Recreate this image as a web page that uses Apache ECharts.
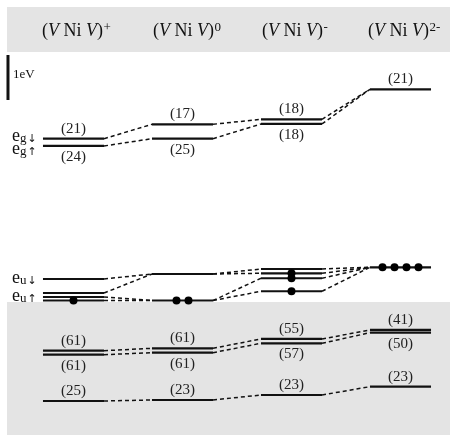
<!DOCTYPE html>
<html><head><meta charset="utf-8">
<script src="https://cdn.jsdelivr.net/npm/echarts@6/dist/echarts.min.js"></script>
<style>html,body{margin:0;padding:0;background:#fff}#c{width:450px;height:435px}</style>
</head><body><div id="c"></div>
<script>
// ---- data (energies in eV, 0 = top of occupied region) ----
const columnLabels = ['(a)', '(b)', '(c)', '(d)'];
const chargeStates = ['+', '0', '-', '2-'];

const levelsA = [3.629, 3.467, 0.511, 0.200, 0.111, 0.033, -1.082, -1.171, -2.200];
const levelsB = [3.949, 3.629, 0.622, 0.033, -1.029, -1.127, -2.178];
const levelsC = [4.060, 3.956, 0.733, 0.638, 0.527, 0.238, -0.822, -0.918, -2.067];
const levelsD = [4.727, 0.771, -0.622, -0.682, -1.882];

const countsA = ['(21)', '(24)', '', '', '', '', '(61)', '(61)', '(25)'];
const countsB = ['(17)', '(25)', '', '', '(61)', '(61)', '(23)'];
const countsC = ['(18)', '(18)', '', '', '', '', '(55)', '(57)', '(23)'];
const countsD = ['(21)', '', '(41)', '(50)', '(23)'];

const electronsA = [0, 0, 0, 0, 0, 1, 0, 0, 0];
const electronsB = [0, 0, 0, 2, 0, 0, 0];
const electronsC = [0, 0, 0, 1, 1, 1, 0, 0, 0];
const electronsD = [0, 4, 0, 0, 0];

const linksAB = [[0,0],[1,1],[2,2],[3,2],[4,3],[5,3],[6,4],[7,5],[8,6]];
const linksBC = [[0,0],[1,1],[2,2],[2,3],[3,4],[3,5],[4,6],[5,7],[6,8]];
const linksCD = [[0,0],[1,0],[2,1],[3,1],[4,1],[5,1],[6,2],[7,3],[8,4]];

const scaleBarEV = 1;

// ---- build ----
const levels = [levelsA, levelsB, levelsC, levelsD];
const counts = [countsA, countsB, countsC, countsD];
const electrons = [electronsA, electronsB, electronsC, electronsD];
const links = [linksAB, linksBC, linksCD];

const HALF = 0.28;      // half level width in column units
const ESP = 0.11;       // electron spacing
const X_MIN = -0.6743, X_MAX = 3.4541;
const Y_MIN = -2.956, Y_MAX = 6.711;

const levelItems = [];
levels.forEach((col, ci) => col.forEach((e, li) => {
  let side = 'top';
  if (li > 0 && counts[ci][li - 1] && col[li - 1] - e < 0.4) side = 'bottom';
  levelItems.push({ value: [ci, e], label: counts[ci][li], side: side });
}));

const linkItems = [];
links.forEach((lk, gi) => lk.forEach(([f, t]) => {
  linkItems.push([gi + HALF, levels[gi][f], gi + 1 - HALF, levels[gi + 1][t]]);
}));

const electronPts = [];
electrons.forEach((col, ci) => col.forEach((n, li) => {
  for (let k = 0; k < n; k++) electronPts.push([ci + (k - (n - 1) / 2) * ESP, levels[ci][li]]);
}));

const SERIF = "'Liberation Serif', 'Times New Roman', serif";
const chart = echarts.init(document.getElementById('c'), null, { renderer: 'canvas' });

const mctx = document.createElement('canvas').getContext('2d');
function measure(txt, font) { mctx.font = font; return mctx.measureText(txt).width; }
const HF = 18;
const mainW = measure('(', HF + 'px ' + SERIF) * 1 + measure(' Ni ', HF + 'px ' + SERIF) + measure(')', HF + 'px ' + SERIF)
  + 2 * measure('V', 'italic ' + HF + 'px ' + SERIF);

function sub(main, s, arrow) {
  return {
    text: '{m|' + main + '}{s|' + s + '}' + (arrow ? '{a|' + arrow + '}' : ''),
    rich: {
      m: { fontFamily: SERIF, fontSize: 18, lineHeight: 18, verticalAlign: 'middle', fill: '#111' },
      s: { fontFamily: SERIF, fontSize: 13, lineHeight: 13, verticalAlign: 'bottom', fill: '#111' },
      a: { fontFamily: "'DejaVu Sans', sans-serif", fontSize: 11, lineHeight: 12, verticalAlign: 'bottom', fill: '#111', padding: [0, 0, 0, 1] }
    }
  };
}

const hdrX = [42, 153, 262, 368];
const botX = [73, 182, 291, 400];
const graphic = [
  { type: 'rect', shape: { x: 7, y: 7, width: 443, height: 45 }, style: { fill: '#e4e4e4' }, z: -1 }
];
chargeStates.forEach((c, i) => {
  graphic.push({ type: 'text', x: hdrX[i], y: 31, style: {
    text: '{p|(}{i|V}{p| Ni }{i|V}{p|)}', textVerticalAlign: 'middle', textAlign: 'left',
    rich: {
      p: { fontFamily: SERIF, fontSize: HF, fill: '#111' },
      i: { fontFamily: SERIF, fontSize: HF, fontStyle: 'italic', fill: '#111' }
    } } });
  graphic.push({ type: 'text', x: hdrX[i] + mainW + 0.5, y: 28, style: {
    text: c, fontFamily: SERIF, fontSize: 13, fill: '#111', textVerticalAlign: 'middle', textAlign: 'left' } });
});
columnLabels.forEach((c, i) => graphic.push({ type: 'text', x: botX[i], y: 425, style: { text: c, fontFamily: SERIF, fontSize: 18, fill: '#111', textAlign: 'center', textVerticalAlign: 'middle' } }));
const sideLabels = [
  ['e', 'g', '\u2193', 136], ['e', 'g', '\u2191', 149],
  ['e', 'u', '\u2193', 278], ['e', 'u', '\u2191', 296],
  ['a', '1g', '', 343], ['e', 'g', '', 356], ['e', 'g', '', 399]
];
sideLabels.forEach(([m, s, a, y]) => graphic.push({ type: 'text', x: 12, y: y, style: Object.assign({ textVerticalAlign: 'middle', textAlign: 'left' }, sub(m, s, a)) }));
graphic.push({ type: 'text', x: 13, y: 75, style: { text: '1eV', fontFamily: SERIF, fontSize: 13, fill: '#111', textVerticalAlign: 'middle' } });

chart.setOption({
  animation: false,
  backgroundColor: '#fff',
  grid: { left: 0, right: 0, top: 0, bottom: 0 },
  xAxis: { type: 'value', min: X_MIN, max: X_MAX, show: false },
  yAxis: { type: 'value', min: Y_MIN, max: Y_MAX, show: false },
  graphic: graphic,
  series: [
    {
      type: 'custom', z: 3,
      data: linkItems,
      renderItem: (params, api) => {
        const p1 = api.coord([api.value(0), api.value(1)]);
        const p2 = api.coord([api.value(2), api.value(3)]);
        return { type: 'line', shape: { x1: p1[0], y1: p1[1], x2: p2[0], y2: p2[1] },
          style: { stroke: '#111', lineWidth: 1.5, lineDash: [4, 3] } };
      },
      markArea: {
        silent: true, itemStyle: { color: '#e4e4e4' },
        data: [[{ xAxis: -0.61, yAxis: 0 }, { xAxis: X_MAX, yAxis: Y_MIN }]]
      }
    },
    {
      type: 'custom', z: 4,
      data: levelItems.map(d => d.value),
      renderItem: (params, api) => {
        const it = levelItems[params.dataIndex];
        const c = api.value(0), e = api.value(1);
        const p1 = api.coord([c - HALF, e]), p2 = api.coord([c + HALF, e]);
        const children = [{ type: 'line', shape: { x1: p1[0], y1: p1[1], x2: p2[0], y2: p2[1] },
          style: { stroke: '#111', lineWidth: 2.2 } }];
        if (it.label) {
          children.push({ type: 'text', x: (p1[0] + p2[0]) / 2, y: p1[1] + (it.side === 'top' ? -10 : 11),
            style: { text: it.label, fontFamily: SERIF, fontSize: 15, fill: '#222', textAlign: 'center', textVerticalAlign: 'middle' } });
        }
        return { type: 'group', children: children };
      }
    },
    {
      type: 'scatter', z: 5, symbol: 'circle', symbolSize: 8,
      itemStyle: { color: '#000', opacity: 1 }, data: electronPts
    },
    {
      type: 'line', z: 5, showSymbol: false, symbol: 'none',
      lineStyle: { color: '#111', width: 3 },
      data: [[-0.601, 5.489], [-0.601, 5.489 - scaleBarEV]]
    }
  ]
});
</script></body></html>
